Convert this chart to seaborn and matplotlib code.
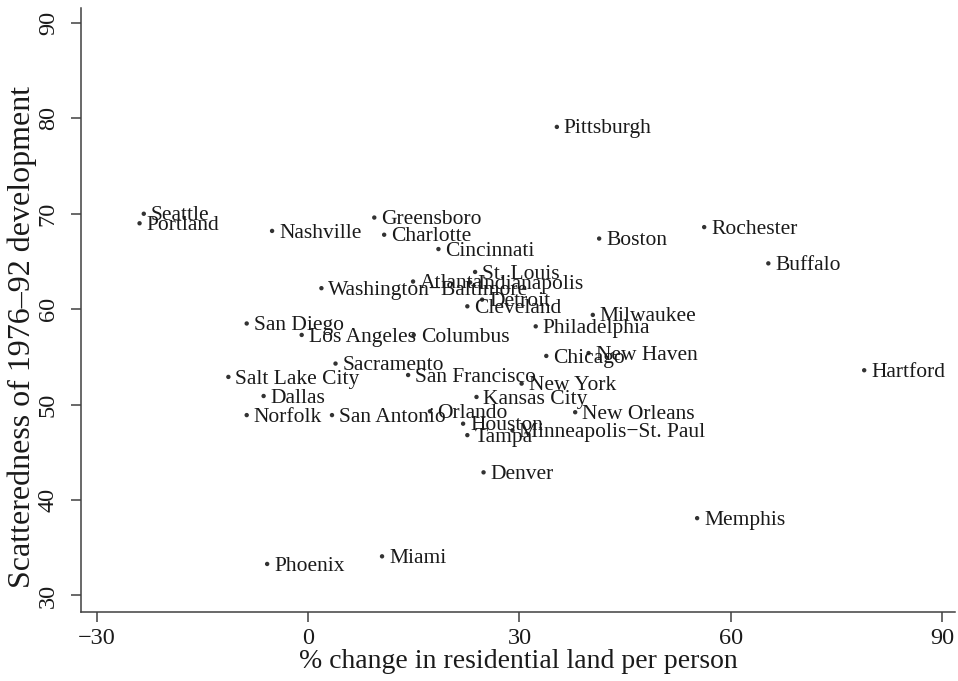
import pandas as pd
import numpy as np
import matplotlib
matplotlib.use("Agg")
import matplotlib.pyplot as plt
import seaborn as sns

# metro areas
cities = ["Pittsburgh", "Seattle", "Portland", "Nashville", "Greensboro", "Charlotte",
          "Cincinnati", "Boston", "Rochester", "Buffalo", "St. Louis", "Atlanta",
          "Indianapolis", "Washington\u2212Baltimore", "Detroit", "Cleveland", "Milwaukee",
          "San Diego", "Los Angeles", "Columbus", "Philadelphia", "Chicago", "New Haven",
          "Sacramento", "Hartford", "Salt Lake City", "San Francisco", "New York",
          "Dallas", "Kansas City", "Norfolk", "San Antonio", "Orlando", "New Orleans",
          "Houston", "Tampa", "Minneapolis\u2212St. Paul", "Denver", "Memphis", "Miami",
          "Phoenix"]
land_change = [35.3, -23.3, -23.9, -5.1, 9.4, 10.8,
               18.5, 41.3, 56.2, 65.3, 23.7, 14.9,
               23.0, 1.9, 24.7, 22.6, 40.4,
               -8.7, -0.9, 15.0, 32.3, 33.8, 39.8,
               3.9, 78.9, -11.3, 14.2, 30.3,
               -6.3, 23.9, -8.7, 3.4, 17.3, 37.9,
               22.0, 22.6, 29.0, 24.9, 55.2, 10.5,
               -5.8]
scatteredness = [79.1, 70.0, 69.0, 68.2, 69.6, 67.8,
                 66.3, 67.4, 68.6, 64.8, 63.9, 62.9,
                 62.8, 62.2, 61.0, 60.3, 59.4,
                 58.5, 57.3, 57.3, 58.2, 55.1, 55.4,
                 54.3, 53.6, 52.9, 53.1, 52.2,
                 50.9, 50.8, 48.9, 48.9, 49.3, 49.2,
                 48.0, 46.8, 47.3, 42.9, 38.1, 34.1,
                 33.3]

x_ticks = [-30, 0, 30, 60, 90]
y_ticks = [30, 40, 50, 60, 70, 80, 90]

df = pd.DataFrame({"city": cities, "land": land_change, "scatter": scatteredness})

sns.set_style("white")
plt.rcParams["font.family"] = ["Liberation Serif", "DejaVu Serif"]

fig = plt.figure(figsize=(9.58, 6.81), dpi=100)
ax = fig.add_axes([0.0846, 0.1018, 0.9124, 0.887])

sns.scatterplot(data=df, x="land", y="scatter", ax=ax, s=10, color="#333333",
                edgecolor="none", linewidth=0)

for _, r in df.iterrows():
    ax.annotate(r["city"], (r["land"], r["scatter"]), xytext=(5, -1.5),
                textcoords="offset points", ha="left", va="center",
                fontsize=15.5, color="#1a1a1a")

ax.set_xlim(-32.2, 91.8)
ax.set_ylim(28.3, 91.6)
ax.set_xticks(x_ticks)
ax.set_yticks(y_ticks)
ax.set_xticklabels([str(t).replace("-", "\u2212") for t in x_ticks])
ax.set_yticklabels([str(t) for t in y_ticks], rotation=90, va="center")
ax.tick_params(axis="both", direction="out", length=7, width=1.1, color="#404040",
               labelsize=17.5, labelcolor="#1a1a1a", left=True, bottom=True)
ax.tick_params(axis="x", pad=5)
ax.tick_params(axis="y", pad=9)

for s in ["top", "right"]:
    ax.spines[s].set_visible(False)
for s in ["left", "bottom"]:
    ax.spines[s].set_color("#404040")
    ax.spines[s].set_linewidth(1.1)

ax.set_xlabel("% change in residential land per person", fontsize=20, color="#1a1a1a",
              labelpad=0)
ax.set_ylabel("Scatteredness of 1976\u201392 development", fontsize=23, color="#1a1a1a")
ax.yaxis.set_label_coords(-0.05, 0.455)

fig.savefig("out.png", dpi=100)
